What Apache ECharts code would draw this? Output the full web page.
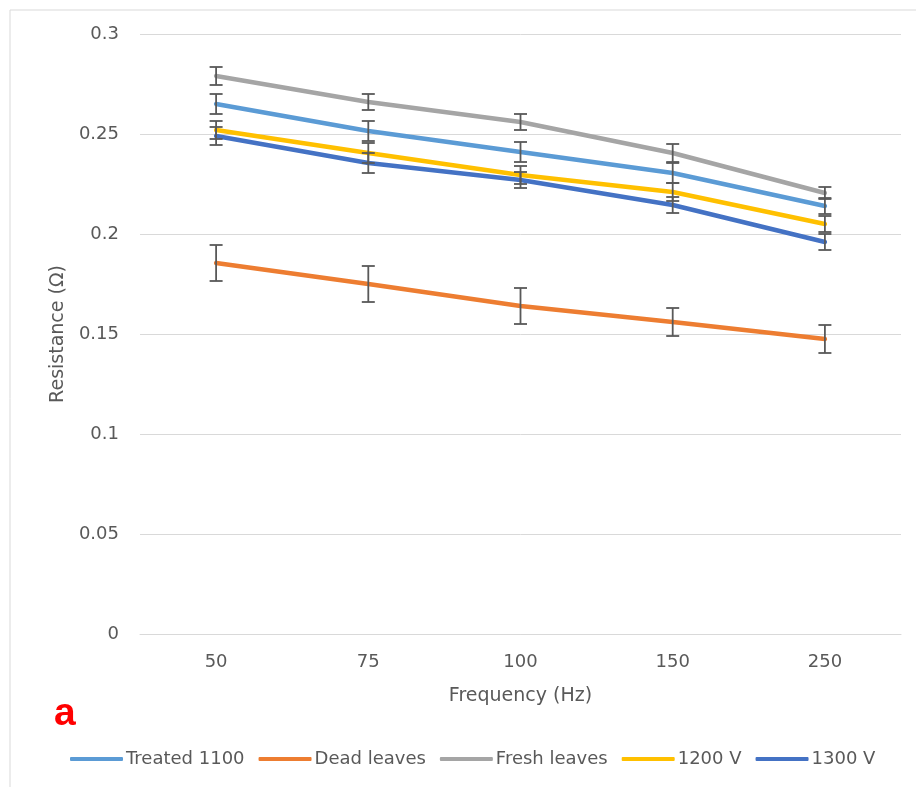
<!DOCTYPE html>
<html>
<head>
<meta charset="utf-8">
<script src="https://cdn.jsdelivr.net/npm/echarts@6/dist/echarts.min.js"></script>
<style>
html,body{margin:0;padding:0;background:#fff;}
#chart{width:916px;height:787px;}
</style>
</head>
<body>
<div id="chart"></div>
<script>
const categories = ['50', '75', '100', '150', '250'];
const seriesNames = ['Treated 1100', 'Dead leaves', 'Fresh leaves', '1200 V', '1300 V'];
const treated1100 = [0.265, 0.2515, 0.241, 0.2305, 0.214];
const deadLeaves = [0.1855, 0.175, 0.164, 0.156, 0.1475];
const freshLeaves = [0.279, 0.266, 0.256, 0.2405, 0.2205];
const v1200 = [0.252, 0.2405, 0.2295, 0.221, 0.205];
const v1300 = [0.249, 0.2355, 0.227, 0.2145, 0.196];
const errTreated1100 = [0.005, 0.005, 0.005, 0.005, 0.004];
const errDeadLeaves = [0.009, 0.009, 0.009, 0.007, 0.007];
const errFreshLeaves = [0.0045, 0.004, 0.004, 0.0045, 0.003];
const errV1200 = [0.0045, 0.005, 0.0045, 0.0045, 0.004];
const errV1300 = [0.0045, 0.005, 0.004, 0.004, 0.004];
const yTicks = [0, 0.05, 0.1, 0.15, 0.2, 0.25, 0.3];

const values = [treated1100, deadLeaves, freshLeaves, v1200, v1300];
const errors = [errTreated1100, errDeadLeaves, errFreshLeaves, errV1200, errV1300];
const colors = ['#5B9BD5', '#ED7D31', '#A5A5A5', '#FFC000', '#4472C4'];

const chart = echarts.init(document.getElementById('chart'));
const font = 'DejaVu Sans';
const txt = '#595959';

const lineSeries = seriesNames.map((n, i) => ({
  name: n,
  type: 'line',
  data: values[i],
  symbol: 'none',
  lineStyle: { width: 4.5, color: colors[i], cap: 'round' },
  itemStyle: { color: colors[i] },
  z: 2
}));

const errSeries = seriesNames.map((n, i) => ({
  type: 'custom',
  name: n + ' err',
  data: values[i].map((v, j) => [j, v - errors[i][j], v + errors[i][j]]),
  renderItem: function (params, api) {
    const x = api.value(0);
    const lo = api.coord([x, api.value(1)]);
    const hi = api.coord([x, api.value(2)]);
    const hw = 6.5;
    const style = { stroke: '#595959', lineWidth: 1.8, fill: null };
    return {
      type: 'group',
      children: [
        { type: 'line', shape: { x1: lo[0], y1: lo[1], x2: hi[0], y2: hi[1] }, style: style },
        { type: 'line', shape: { x1: lo[0] - hw, y1: lo[1], x2: lo[0] + hw, y2: lo[1] }, style: style },
        { type: 'line', shape: { x1: hi[0] - hw, y1: hi[1], x2: hi[0] + hw, y2: hi[1] }, style: style }
      ]
    };
  },
  z: 3,
  silent: true
}));

chart.setOption({
  animation: false,
  backgroundColor: '#fff',
  grid: { left: 140, right: 15, top: 34, bottom: 153, containLabel: false },
  xAxis: {
    type: 'category',
    data: categories,
    boundaryGap: true,
    name: 'Frequency (Hz)',
    nameLocation: 'middle',
    nameGap: 53,
    nameTextStyle: { fontFamily: font, fontSize: 19, color: txt },
    axisLine: { show: true, lineStyle: { color: '#d9d9d9', width: 1 } },
    axisTick: { show: false },
    axisLabel: { margin: 19, fontFamily: font, fontSize: 18, color: txt }
  },
  yAxis: {
    type: 'value',
    min: 0, max: 0.3, interval: 0.05,
    name: 'Resistance (Ω)',
    nameLocation: 'middle',
    nameGap: 71,
    nameTextStyle: { fontFamily: font, fontSize: 19, color: txt },
    axisLine: { show: false },
    axisTick: { show: false },
    splitLine: { lineStyle: { color: '#d9d9d9', width: 1 } },
    axisLabel: {
      margin: 21, fontFamily: font, fontSize: 18, color: txt,
      formatter: function (v) {
        const t = yTicks.find(k => Math.abs(k - v) < 1e-9);
        return t === undefined ? '' : String(t);
      }
    }
  },
  legend: {
    data: seriesNames,
    left: 65,
    top: 745,
    itemWidth: 53,
    itemHeight: 4,
    itemGap: 14,
    icon: 'roundRect',
    textStyle: { fontFamily: font, fontSize: 18, color: txt, padding: [0, 0, 0, -2] }
  },
  graphic: [
    { type: 'line', shape: { x1: 10, y1: 10, x2: 916, y2: 10 }, style: { stroke: '#d9d9d9', lineWidth: 1 } },
    { type: 'line', shape: { x1: 10, y1: 10, x2: 10, y2: 787 }, style: { stroke: '#d9d9d9', lineWidth: 1 } },
    { type: 'text', style: { x: 54, y: 714, text: 'a', fill: '#FF0000', font: 'bold 39px "Liberation Sans"', verticalAlign: 'middle' } }
  ],
  series: lineSeries.concat(errSeries)
});
</script>
</body>
</html>
